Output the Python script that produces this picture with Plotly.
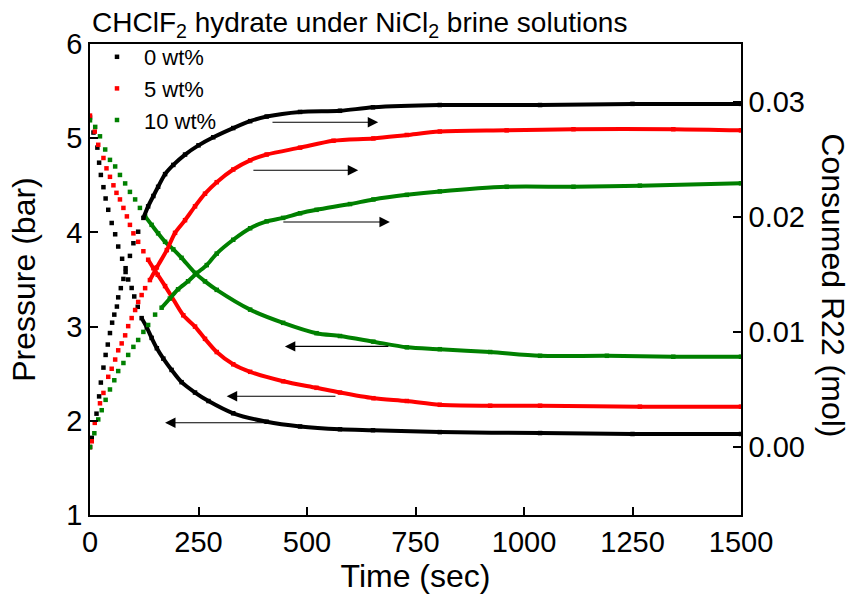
import plotly.graph_objects as go

# ---------------- data ----------------
series_names = ["0 wt%", "5 wt%", "10 wt%"]

black_p_t = [0, 8, 17, 21, 25, 31, 36, 42, 50, 58, 65, 74, 82, 88, 96, 102, 110, 119, 131, 142, 154, 169, 188, 211, 242, 273, 330, 407, 484, 576, 652, 806, 1037, 1250, 1500]
black_p = [5.22, 5.06, 4.90, 4.74, 4.61, 4.48, 4.36, 4.24, 4.10, 3.98, 3.85, 3.72, 3.62, 3.50, 3.41, 3.32, 3.21, 3.09, 2.99, 2.88, 2.77, 2.66, 2.54, 2.41, 2.30, 2.21, 2.08, 1.99, 1.94, 1.91, 1.90, 1.88, 1.87, 1.86, 1.86]

black_c_t = [0, 4, 15, 21, 25, 31, 36, 41, 46, 51, 56, 62, 65, 71, 77, 82, 92, 100, 111, 123, 134, 146, 157, 173, 192, 219, 250, 284, 330, 369, 407, 484, 576, 652, 806, 1037, 1250, 1500]
black_c = [0.0, 0.0008, 0.0029, 0.0044, 0.0056, 0.0069, 0.0080, 0.0089, 0.0099, 0.0108, 0.0115, 0.0122, 0.0130, 0.0138, 0.0146, 0.0152, 0.0166, 0.0177, 0.0187, 0.0199, 0.0209, 0.0218, 0.0226, 0.0237, 0.0245, 0.0254, 0.0262, 0.0269, 0.0277, 0.0283, 0.0287, 0.0291, 0.0292, 0.0295, 0.0297, 0.0297, 0.0298, 0.0298]

red_p_t = [0, 11, 19, 31, 38, 46, 54, 61, 69, 77, 85, 92, 100, 111, 123, 134, 146, 156, 173, 188, 215, 242, 265, 292, 330, 369, 445, 522, 576, 653, 730, 806, 922, 1037, 1267, 1500]
red_p = [5.24, 5.07, 4.93, 4.79, 4.68, 4.59, 4.50, 4.42, 4.35, 4.26, 4.17, 4.08, 3.99, 3.90, 3.80, 3.71, 3.62, 3.55, 3.43, 3.32, 3.12, 3.00, 2.87, 2.73, 2.60, 2.52, 2.42, 2.35, 2.30, 2.24, 2.21, 2.17, 2.16, 2.16, 2.15, 2.15]

red_c_t = [0, 4, 11, 23, 31, 42, 50, 58, 65, 73, 81, 88, 96, 104, 111, 119, 127, 138, 154, 177, 196, 219, 242, 265, 292, 330, 369, 407, 484, 561, 653, 730, 806, 960, 1114, 1344, 1500]
red_c = [0.0, 0.0005, 0.0021, 0.0038, 0.0047, 0.0061, 0.0068, 0.0076, 0.0084, 0.0090, 0.0097, 0.0105, 0.0112, 0.0119, 0.0126, 0.0132, 0.0138, 0.0145, 0.0156, 0.0171, 0.0186, 0.0197, 0.0209, 0.0220, 0.0230, 0.0241, 0.0249, 0.0254, 0.0260, 0.0266, 0.0268, 0.0271, 0.0274, 0.0275, 0.0276, 0.0276, 0.0275]

green_p_t = [0, 12, 23, 35, 46, 58, 69, 81, 92, 104, 115, 127, 142, 157, 173, 192, 211, 242, 265, 292, 369, 445, 522, 576, 653, 730, 806, 922, 1037, 1191, 1344, 1500]
green_p = [5.19, 5.12, 5.02, 4.88, 4.77, 4.70, 4.61, 4.52, 4.43, 4.35, 4.26, 4.17, 4.08, 3.99, 3.90, 3.82, 3.73, 3.57, 3.48, 3.39, 3.18, 3.04, 2.93, 2.90, 2.84, 2.78, 2.76, 2.73, 2.69, 2.69, 2.68, 2.68]

green_c_t = [0, 10, 19, 27, 36, 46, 56, 65, 77, 88, 100, 111, 123, 134, 150, 165, 184, 203, 226, 246, 269, 292, 330, 369, 407, 445, 484, 522, 599, 653, 730, 806, 960, 1114, 1267, 1500]
green_c = [0.0, 0.0012, 0.0024, 0.0032, 0.0041, 0.0050, 0.0058, 0.0066, 0.0073, 0.0080, 0.0087, 0.0093, 0.0100, 0.0106, 0.0115, 0.0121, 0.0129, 0.0137, 0.0144, 0.0151, 0.0158, 0.0168, 0.0180, 0.0190, 0.0196, 0.0199, 0.0203, 0.0206, 0.0211, 0.0215, 0.0219, 0.0222, 0.0226, 0.0226, 0.0227, 0.0229]

x_ticks = [0, 250, 500, 750, 1000, 1250, 1500]
y_ticks = [1, 2, 3, 4, 5, 6]
y2_ticks = [0.00, 0.01, 0.02, 0.03]

# ---------------- styling ----------------
FONT = "Liberation Sans, Arial, sans-serif"
colors = ["#000000", "#ff0000", "#008000"]
# time after which the sampled points merge into a continuous thick line
merge_after = [[119, 123], [134, 138], [127, 165]]

fig = go.Figure()

groups = [
    (black_p_t, black_p, black_c_t, black_c),
    (red_p_t, red_p, red_c_t, red_c),
    (green_p_t, green_p, green_c_t, green_c),
]

for i, (pt, pv, ct, cv) in enumerate(groups):
    col = colors[i]
    for j, (tt, vv, ax) in enumerate([(pt, pv, "y"), (ct, cv, "y2")]):
        thr = merge_after[i][j]
        lt = [t for t in tt if t >= thr]
        lv = [v for t, v in zip(tt, vv) if t >= thr]
        fig.add_trace(go.Scatter(
            x=lt, y=lv, yaxis=ax, mode="lines",
            line=dict(color=col, width=4, shape="spline", smoothing=0.8),
            showlegend=False, hoverinfo="skip"))
        fig.add_trace(go.Scatter(
            x=tt, y=vv, yaxis=ax, mode="markers",
            marker=dict(symbol="square", size=4.5, color=col),
            name=series_names[i], legendgroup=series_names[i],
            showlegend=(j == 0)))

# arrows (pressure curves -> left axis, consumed curves -> right axis)
arrows = [
    (664, 5.17, 417, 5.17),
    (618, 4.66, 373, 4.66),
    (691, 4.11, 442, 4.11),
    (449, 2.79, 691, 2.79),
    (315, 2.26, 569, 2.26),
    (173, 1.98, 410, 1.98),
]
annotations = []
for (hx, hy, tx, ty) in arrows:
    annotations.append(dict(
        x=hx, y=hy, ax=tx, ay=ty, xref="x", yref="y", axref="x", ayref="y",
        text="", showarrow=True, arrowhead=2, arrowsize=1.9, arrowwidth=1.1,
        arrowcolor="black"))

annotations.append(dict(
    text="Consumed R22 (mol)", xref="paper", yref="paper", x=1.141, y=0.488,
    textangle=90, showarrow=False, font=dict(family=FONT, size=32, color="black"),
    xanchor="center", yanchor="middle"))

axis_common = dict(
    showline=True, linecolor="black", linewidth=1.5, ticks="inside",
    ticklen=8, tickwidth=1.5, tickcolor="black", showgrid=False, zeroline=False,
    tickfont=dict(family=FONT, size=29, color="black"))

fig.update_layout(
    width=857, height=600,
    margin=dict(l=90, r=116, t=44, b=85),
    paper_bgcolor="white", plot_bgcolor="white",
    font=dict(family=FONT, color="black"),
    title=dict(text="CHClF<sub>2</sub> hydrate under NiCl<sub>2</sub> brine solutions",
               x=92 / 857, xanchor="left", y=1 - 22 / 600, yanchor="middle",
               font=dict(family=FONT, size=28, color="black")),
    xaxis=dict(range=[0, 1500], tickvals=x_ticks, mirror=True,
               title=dict(text="Time (sec)", font=dict(family=FONT, size=32), standoff=8),
               **axis_common),
    yaxis=dict(range=[1, 6], tickvals=y_ticks,
               title=dict(text="Pressure (bar)", font=dict(family=FONT, size=32), standoff=21),
               **axis_common),
    yaxis2=dict(range=[-0.0059, 0.035], tickvals=y2_ticks, tickformat=".2f",
                overlaying="y", side="right", **axis_common),
    legend=dict(x=0.0, y=1.017, xanchor="left", yanchor="top",
                font=dict(family=FONT, size=22, color="black"),
                bgcolor="rgba(0,0,0,0)", tracegroupgap=0, itemwidth=44),
    annotations=annotations,
    showlegend=True,
)

fig.write_html("out.html")
